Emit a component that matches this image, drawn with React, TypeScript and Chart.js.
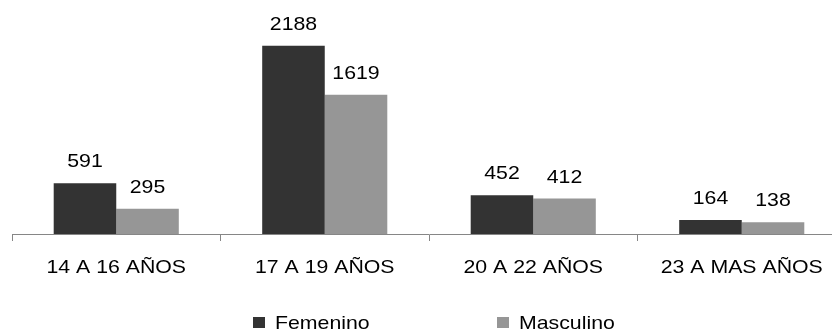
import React, { useEffect, useRef } from 'react';
import { Chart, registerables } from 'chart.js';

Chart.register(...registerables);

const categories = ['14 A 16 AÑOS', '17 A 19 AÑOS', '20 A 22 AÑOS', '23 A MAS AÑOS'];
const femenino = [591, 2188, 452, 164];
const masculino = [295, 1619, 412, 138];
const seriesNames = ['Femenino', 'Masculino'];
const seriesColors = ['#333333', '#969696'];
const yMax = 2500;

const FONT = '"Liberation Sans", Arial, sans-serif';
const SX = 1.12;

function drawStretched(ctx: CanvasRenderingContext2D, text: string, x: number, y: number, align: CanvasTextAlign) {
  ctx.save();
  ctx.translate(x, y);
  ctx.scale(SX, 1);
  ctx.textAlign = align;
  ctx.fillText(text, 0, 0);
  ctx.restore();
}

const textPlugin = {
  id: 'textPlugin',
  afterDraw(chart: any) {
    const ctx: CanvasRenderingContext2D = chart.ctx;
    ctx.save();
    ctx.fillStyle = '#000000';
    ctx.textBaseline = 'alphabetic';
    ctx.font = `19px ${FONT}`;
    // value labels
    chart.data.datasets.forEach((ds: any, di: number) => {
      const meta = chart.getDatasetMeta(di);
      meta.data.forEach((bar: any, i: number) => {
        drawStretched(ctx, String(ds.data[i]), bar.x, bar.y - 16, 'center');
      });
    });
    // category labels
    const xs = chart.scales.x;
    const labelBaseline = chart.chartArea.bottom + 39;
    categories.forEach((c, i) => {
      drawStretched(ctx, c, xs.getPixelForValue(i), labelBaseline, 'center');
    });
    // legend
    const lx = [253, 497];
    const boxTop = 317;
    seriesNames.forEach((name, i) => {
      ctx.fillStyle = seriesColors[i];
      ctx.fillRect(lx[i], boxTop, 12, 11);
      ctx.fillStyle = '#000000';
      drawStretched(ctx, name, lx[i] + 22, boxTop + 11.5, 'left');
    });
    ctx.restore();
  },
};

export default function App() {
  const ref = useRef<HTMLCanvasElement | null>(null);
  useEffect(() => {
    if (!ref.current) return;
    Chart.defaults.font.family = FONT;
    const chart = new Chart(ref.current, {
      type: 'bar',
      data: {
        labels: categories,
        datasets: [
          { label: seriesNames[0], data: femenino, backgroundColor: seriesColors[0], categoryPercentage: 0.6, barPercentage: 1 },
          { label: seriesNames[1], data: masculino, backgroundColor: seriesColors[1], categoryPercentage: 0.6, barPercentage: 1 },
        ],
      },
      options: {
        animation: false,
        responsive: true,
        maintainAspectRatio: false,
        layout: { padding: { left: 12, right: 14, top: 19, bottom: 59 } },
        plugins: { legend: { display: false }, tooltip: { enabled: false } },
        scales: {
          x: {
            offset: true,
            grid: { display: true, drawOnChartArea: false, drawTicks: true, tickLength: 7, offset: true, color: '#868686' },
            border: { display: true, color: '#868686' },
            ticks: { display: false },
            afterFit: (s: any) => { s.height = 40; },
          },
          y: { display: false, min: 0, max: yMax },
        },
      },
      plugins: [textPlugin],
    });
    return () => chart.destroy();
  }, []);
  return (
    <div style={{ position: 'fixed', left: 0, top: 0, width: 832, height: 333, overflow: 'hidden', background: '#fff' }}>
      <div style={{ position: 'relative', width: 860, height: 333 }}>
        <canvas ref={ref} />
      </div>
    </div>
  );
}
